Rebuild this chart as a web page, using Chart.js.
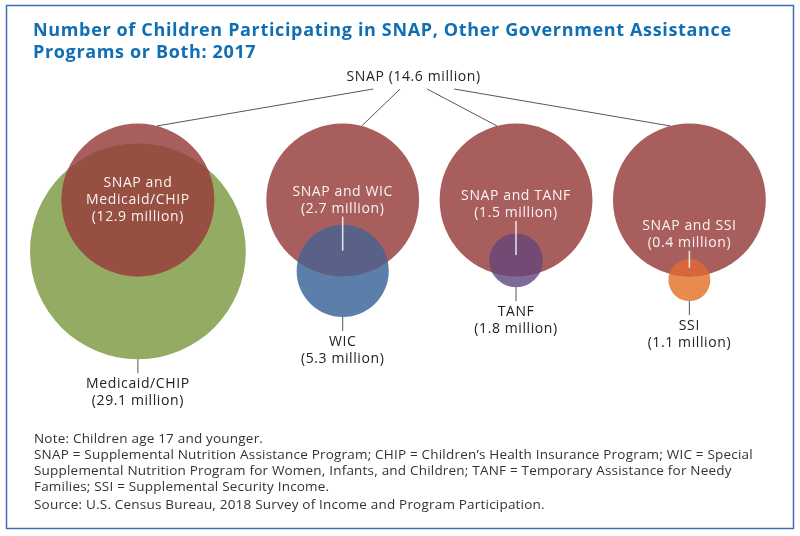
<!DOCTYPE html>
<html>
<head>
<meta charset="utf-8">
<script src="https://cdn.jsdelivr.net/npm/chart.js@4.4.1/dist/chart.umd.min.js"></script>
<style>
  body { margin: 0; background: #fff; }
  #wrap { width: 800px; height: 536px; }
</style>
</head>
<body>
<div id="wrap"><canvas id="venn"></canvas></div>
<script>
// data (millions of children)
var snapTotal = 14.6;
var programs = ["Medicaid/CHIP", "WIC", "TANF", "SSI"];
var programTotals = [29.1, 5.3, 1.8, 1.1];
var bothTotals = [12.9, 2.7, 1.5, 0.4];

var titleLines = [
    "Number of Children Participating in SNAP, Other Government Assistance",
    "Programs or Both: 2017"
];
var noteLines = [
    "Note: Children age 17 and younger.",
    "SNAP = Supplemental Nutrition Assistance Program; CHIP = Children\u2019s Health Insurance Program; WIC = Special",
    "Supplemental Nutrition Program for Women, Infants, and Children; TANF = Temporary Assistance for Needy",
    "Families; SSI = Supplemental Security Income.",
    "Source: U.S. Census Bureau, 2018 Survey of Income and Program Participation."
];

var snapColor = "#A85E5D";
var programColors = ["#93AB63", "#5B7FAA", "#7E6B9B", "#E98B4E"];
var overlapColors = ["#964F40", "#5A6189", "#724A73", "#D7663A"];
var textFont = "'Open Sans', sans-serif";

// layout: area-proportional circles, overlap distance solved from the shared count
var k = 20;          // px per sqrt(million)
var rowY = 200;      // centre line of the SNAP circles
var leftEdge = 30;
var gap = 20.5;

function radius(v) { return k * Math.sqrt(v); }

function lensArea(r1, r2, d) {
    if (d >= r1 + r2) return 0;
    if (d <= Math.abs(r1 - r2)) return Math.PI * Math.pow(Math.min(r1, r2), 2);
    var a = r1 * r1 * Math.acos((d * d + r1 * r1 - r2 * r2) / (2 * d * r1));
    var b = r2 * r2 * Math.acos((d * d + r2 * r2 - r1 * r1) / (2 * d * r2));
    var c = 0.5 * Math.sqrt((-d + r1 + r2) * (d + r1 - r2) * (d - r1 + r2) * (d + r1 + r2));
    return a + b - c;
}

function centreGap(r1, r2, area) {
    var lo = Math.abs(r1 - r2), hi = r1 + r2;
    for (var i = 0; i < 60; i++) {
        var mid = (lo + hi) / 2;
        if (lensArea(r1, r2, mid) > area) lo = mid; else hi = mid;
    }
    return (lo + hi) / 2;
}

var rSnap = radius(snapTotal);
var snapPoints = [], programPoints = [];
var cursor = leftEdge;
programs.forEach(function (p, i) {
    var rp = radius(programTotals[i]);
    var half = Math.max(rSnap, rp);
    var cx = cursor + half;
    cursor = cx + half + gap;
    var d = centreGap(rSnap, rp, Math.PI * k * k * bothTotals[i]);
    snapPoints.push({ x: cx, y: rowY, r: rSnap });
    programPoints.push({ x: cx, y: rowY + d, r: rp });
});

function millions(v) { return "(" + v.toFixed(1) + " million)"; }

var labelPlugin = {
    id: "vennLabels",
    afterDatasetsDraw: function (chart) {
        var ctx = chart.ctx;
        var snapEls = chart.getDatasetMeta(0).data;
        var progEls = chart.getDatasetMeta(1).data;
        snapEls.forEach(function (el, i) {
            var pe = progEls[i];
            ctx.save();
            ctx.beginPath();
            ctx.arc(el.x, el.y, el.options.radius, 0, Math.PI * 2);
            ctx.clip();
            ctx.beginPath();
            ctx.arc(pe.x, pe.y, pe.options.radius, 0, Math.PI * 2);
            ctx.fillStyle = overlapColors[i];
            ctx.fill();
            ctx.restore();
        });
    },
    afterDraw: function (chart) {
        var ctx = chart.ctx;
        var snapEls = chart.getDatasetMeta(0).data;
        var progEls = chart.getDatasetMeta(1).data;
        ctx.save();

        // frame
        ctx.strokeStyle = "#3C6FB2";
        ctx.lineWidth = 1.5;
        ctx.strokeRect(6.5, 5.5, 787, 523);

        // title
        ctx.fillStyle = "#106EB4";
        ctx.font = "bold 18px " + textFont;
        ctx.letterSpacing = "0.65px";
        ctx.textBaseline = "middle";
        ctx.textAlign = "left";
        titleLines.forEach(function (t, i) { ctx.fillText(t, 33, 31 + i * 22); });

        // SNAP label and connectors
        var lx = (snapEls[0].x + snapEls[snapEls.length - 1].x) / 2;
        ctx.font = "14px " + textFont;
        ctx.letterSpacing = "0.6px";
        ctx.fillStyle = "#222";
        ctx.textAlign = "center";
        ctx.fillText("SNAP " + millions(snapTotal), lx, 77);
        ctx.strokeStyle = "#444";
        ctx.lineWidth = 0.9;
        snapEls.forEach(function (el, i) {
            var r = el.options.radius;
            var off = el.x < lx ? 19 : -19;
            ctx.beginPath();
            ctx.moveTo(lx + (i - 1.5) * 27, 89);
            ctx.lineTo(el.x + off, el.y - Math.sqrt(r * r - off * off));
            ctx.stroke();
        });

        // labels inside the SNAP circles
        var leaderLen = [0, 34, 34, 17];
        snapEls.forEach(function (el, i) {
            var pe = progEls[i];
            var rs = el.options.radius, rp = pe.options.radius;
            ctx.fillStyle = "rgba(255,255,255,0.93)";
            if (i === 0) {
                var lines0 = ["SNAP and", programs[0], millions(bothTotals[0])];
                lines0.forEach(function (t, j) { ctx.fillText(t, el.x, el.y - 17 + j * 17); });
            } else {
                var lensMid = ((pe.y - rp) + Math.min(el.y + rs, pe.y + rp)) / 2;
                var top = lensMid - leaderLen[i];
                ctx.fillText("SNAP and " + programs[i], el.x, top - 25);
                ctx.fillText(millions(bothTotals[i]), el.x, top - 8);
                ctx.strokeStyle = "rgba(255,255,255,0.85)";
                ctx.lineWidth = 1.5;
                ctx.beginPath();
                ctx.moveTo(el.x, top);
                ctx.lineTo(el.x, lensMid);
                ctx.stroke();
            }

            // program label below
            var bottom = pe.y + rp;
            ctx.strokeStyle = "#555";
            ctx.lineWidth = 1;
            ctx.beginPath();
            ctx.moveTo(pe.x, bottom);
            ctx.lineTo(pe.x, bottom + 14);
            ctx.stroke();
            ctx.fillStyle = "#222";
            ctx.fillText(programs[i], pe.x, bottom + 25);
            ctx.fillText(millions(programTotals[i]), pe.x, bottom + 42);
        });

        // notes
        ctx.textAlign = "left";
        ctx.fillStyle = "#333";
        ctx.font = "13.5px " + textFont;
        ctx.letterSpacing = "0.2px";
        var noteY = [439, 455, 471, 487, 505];
        noteLines.forEach(function (t, i) { ctx.fillText(t, 34, noteY[i]); });
        ctx.restore();
    }
};

new Chart("venn", {
    type: "bubble",
    data: {
        datasets: [
            { label: "SNAP", data: snapPoints, backgroundColor: snapColor, borderWidth: 0 },
            { label: "Program", data: programPoints, backgroundColor: programColors, borderWidth: 0 }
        ]
    },
    options: {
        responsive: true,
        maintainAspectRatio: false,
        animation: false,
        events: [],
        layout: { padding: 0, autoPadding: false },
        scales: {
            x: { type: "linear", min: 0, max: 800, display: false },
            y: { type: "linear", min: 0, max: 536, reverse: true, display: false }
        },
        plugins: { legend: { display: false }, tooltip: { enabled: false } }
    },
    plugins: [labelPlugin]
});
</script>
</body>
</html>
